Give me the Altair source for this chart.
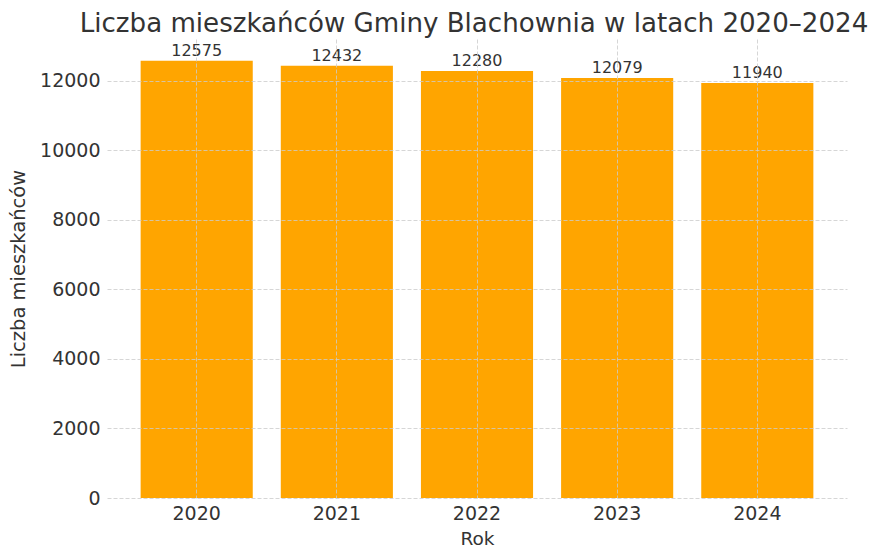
import altair as alt
import pandas as pd

years = ["2020", "2021", "2022", "2023", "2024"]
population = [12575, 12432, 12280, 12079, 11940]

df = pd.DataFrame({"Rok": years, "Liczba": population})

FONT = "DejaVu Sans"
TXT = "#333333"

x = alt.X(
    "Rok:N",
    title="Rok",
    sort=years,
    scale=alt.Scale(paddingInner=0.2, paddingOuter=0.24),
    axis=alt.Axis(
        labelAngle=0,
        labelFontSize=19,
        labelColor=TXT,
        labelFont=FONT,
        labelPadding=6,
        titleFontSize=18.5,
        titleColor=TXT,
        titleFont=FONT,
        titleFontWeight="normal",
        titlePadding=6,
        ticks=False,
        domain=False,
        grid=True,
        gridColor="#cccccc",
        gridDash=[4, 2],
        gridWidth=0.8,
        bandPosition=0.5,
        zindex=1,
    ),
)

y = alt.Y(
    "Liczba:Q",
    title="Liczba mieszkańców",
    scale=alt.Scale(domain=[0, 13204], nice=False),
    axis=alt.Axis(
        values=[0, 2000, 4000, 6000, 8000, 10000, 12000],
        format="d",
        labelFontSize=19,
        labelColor=TXT,
        labelFont=FONT,
        labelPadding=7,
        titleFontSize=19.5,
        titleColor=TXT,
        titleFont=FONT,
        titleFontWeight="normal",
        titlePadding=11,
        ticks=False,
        domain=False,
        grid=True,
        gridColor="#cccccc",
        gridDash=[4, 2],
        gridWidth=0.8,
        zindex=1,
    ),
)

bars = alt.Chart(df).mark_bar(color="#FFA500").encode(x=x, y=y)

labels = alt.Chart(df).mark_text(
    baseline="bottom", dy=-2, fontSize=16, font=FONT, color=TXT
).encode(x=alt.X("Rok:N", sort=years), y="Liczba:Q", text="Liczba:Q")

chart = (
    alt.layer(bars, labels)
    .properties(
        width=740,
        height=459,
        autosize=alt.AutoSizeParams(type="none"),
        padding={"left": 99, "top": 31, "right": 24, "bottom": 51},
        title=alt.TitleParams(
            "Liczba mieszkańców Gminy Blachownia w latach 2020–2024",
            fontSize=26.1,
            font=FONT,
            color=TXT,
            fontWeight="normal",
            anchor="middle",
            baseline="alphabetic",
            offset=8,
            dy=27,
            dx=-3,
        ),
    )
    .configure_view(stroke=None)
)

chart.save("out.html", embed_options={"renderer": "svg", "actions": False})
